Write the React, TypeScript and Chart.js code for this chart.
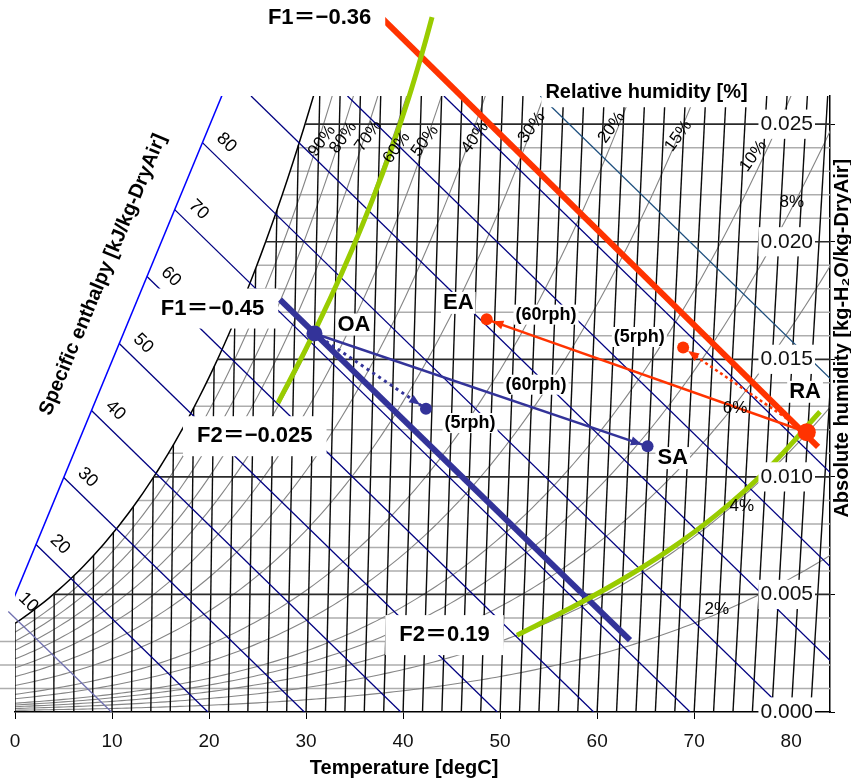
import React, { useEffect, useRef } from 'react';
import { Chart, registerables } from 'chart.js';

Chart.register(...registerables);

// ---------- axes ----------
const X_MIN = 0;
const X_MAX = 84;
const Y_MIN = 0;
const Y_MAX = 0.0262;
const X_TICKS = [0, 10, 20, 30, 40, 50, 60, 70, 80];
const Y_TICKS = [0, 0.005, 0.01, 0.015, 0.02, 0.025];

// ---------- psychrometric grid ----------
const DRY_BULB_LINES = [0, 2, 4, 6, 8, 10, 12, 14, 16, 18, 20, 22, 24, 26, 28, 30, 32, 34, 36, 38, 40, 42, 44, 46, 48, 50, 52, 54, 56, 58, 60, 62, 64, 66, 68, 70, 72, 74, 76, 78, 80, 82, 84];
const HUMIDITY_LINES = [0.001, 0.002, 0.003, 0.004, 0.005, 0.006, 0.007, 0.008, 0.009, 0.01, 0.011, 0.012, 0.013, 0.014, 0.015, 0.016, 0.017, 0.018, 0.019, 0.02, 0.021, 0.022, 0.023, 0.024, 0.025];
const RH_LINES = [2, 4, 6, 8, 10, 15, 20, 30, 40, 50, 60, 70, 80, 90, 100];
const ENTHALPY_LINES = [10, 20, 30, 40, 50, 60, 70, 80, 90, 100, 110, 120];
const ENTHALPY_SCALE_LABELS = [10, 20, 30, 40, 50, 60, 70, 80];
// ends of the oblique enthalpy scale: [chart temperature coordinate, absolute humidity]
const ENTHALPY_SCALE_FROM = [-0.72, 0.00425];
const ENTHALPY_SCALE_TO = [21.34, 0.02623];

// relative humidity labels: text, chart temperature coordinate, humidity
const RH_LABEL_TEXT = ['90%', '80%', '70%', '60%', '50%', '40%', '30%', '20%', '15%', '10%', '8%', '6%', '4%', '2%'];
const RH_LABEL_X = [31.64, 33.84, 36.42, 39.34, 42.26, 47.41, 53.26, 61.5, 68.37, 76.1, 80.06, 74.21, 74.9, 72.33];
const RH_LABEL_Y = [0.02429, 0.02443, 0.0245, 0.024, 0.02429, 0.02443, 0.02486, 0.02486, 0.0245, 0.02365, 0.02166, 0.01293, 0.00873, 0.00436];
const RH_LABEL_UPRIGHT = [false, false, false, false, false, false, false, false, false, false, true, true, true, true];

// ---------- state points [dry-bulb degC, kg/kg] ----------
const OA = [30.0, 0.0161];
const SA = [63.9, 0.0113];
const OA_5RPH = [41.4, 0.0129];
const RA = [79.9, 0.0119];
const EA = [47.2, 0.0167];
const RA_5RPH = [67.0, 0.0155];

// ---------- characteristic lines [dry-bulb degC, kg/kg] ----------
const F1_OA_LINE = [[26.48, 0.01754], [63.04, 0.003055]]; // F1 = -0.45
const F1_RA_LINE = [[36.03, 0.02947], [81.13, 0.01128]]; // F1 = -0.36
const F2_OA_T = [26.48, 29.14, 31.45, 33.56, 35.47, 37.19, 38.72, 40.05, 40.82]; // F2 = -0.025
const F2_OA_X = [0.013152, 0.015411, 0.017542, 0.019672, 0.021803, 0.023933, 0.026063, 0.028193, 0.029557];
const F2_RA_T = [51.44, 56.46, 61.44, 66.39, 71.28, 76.1, 81.11]; // F2 = 0.19
const F2_RA_X = [0.003268, 0.004346, 0.005509, 0.006834, 0.008407, 0.010307, 0.01277];

// ---------- annotations: text and anchor (chart temperature coordinate, humidity) ----------
const LABEL_TEXT = ['F1＝−0.36', 'F1＝−0.45', 'F2＝−0.025', 'F2＝0.19', 'OA', 'EA', 'SA', 'RA', '(60rph)', '(60rph)', '(5rph)', '(5rph)'];
const LABEL_KIND = ['F', 'F', 'F', 'F', 'P', 'P', 'P', 'P', 'R', 'R', 'R', 'R'];
const LABEL_X = [31.39, 20.36, 24.71, 44.27, 34.94, 45.69, 67.79, 81.43, 54.73, 53.7, 64.35, 46.9];
const LABEL_Y = [0.02954, 0.01716, 0.01173, 0.00327, 0.01648, 0.0174, 0.0108, 0.01362, 0.0169, 0.01392, 0.01595, 0.01229];

const X_TITLE = 'Temperature [degC]';
const Y_TITLE = 'Absolute humidity [kg-H₂O/kg-DryAir]';
const RH_TITLE = 'Relative humidity [%]';
const H_TITLE = 'Specific enthalpy [kJ/kg-DryAir]';
const X_TITLE_AT = 40.1;
const Y_TITLE_AT = 0.0159;
const RH_TITLE_AT = [65.09, 0.02636];
const H_TITLE_AT = [9.07, 0.0186];

// ---------- psychrometrics (chart coordinate system) ----------
const P_ATM = 101.325;
const CPA = 1.006;
const CPV = 1.805;
const R0 = 2501;
const psat = (t: number) => 0.61078 * Math.exp((17.27 * t) / (t + 237.3));
const humidityAt = (t: number, rh: number) => {
  const p = (rh / 100) * psat(t);
  return (0.622 * p) / (P_ATM - p);
};
const dewPoint = (x: number) => {
  const p = (x * P_ATM) / (0.622 + x);
  const a = Math.log(p / 0.61078);
  return (237.3 * a) / (17.27 - a);
};
// oblique h-x chart: horizontal coordinate is (h - r0*x)/cpa
const toChart = (t: number, x: number) => ({ x: t + (CPV / CPA) * t * x, y: x });
const enthalpyOf = (X: number, x: number) => CPA * X + R0 * x;

const BLUE = '#333399';
const RED = '#ff3300';
const GREEN = '#99cc00';
const FONT = "'Liberation Sans', 'Noto Sans CJK JP', 'DejaVu Sans', Arial, sans-serif";
const NARROW = "'Liberation Sans Narrow', 'Liberation Sans', Arial, sans-serif";

function lineDs(data: any[], color: string, width: number, order: number, extra: any = {}) {
  return {
    data,
    showLine: true,
    borderColor: color,
    backgroundColor: color,
    borderWidth: width,
    pointRadius: 0,
    pointHoverRadius: 0,
    fill: false,
    tension: 0,
    order,
    ...extra,
  };
}

function buildDatasets() {
  const ds: any[] = [];
  // minor / major humidity lines
  const xsat0 = humidityAt(0, 100);
  HUMIDITY_LINES.forEach((h) => {
    const startX = h < xsat0 ? -1.6 : toChart(dewPoint(h), h).x;
    const major = Math.round(h * 1000) % 5 === 0;
    ds.push(
      lineDs([{ x: startX, y: h }, { x: X_MAX, y: h }], major ? '#2a2a2a' : '#adadad', major ? 1.7 : 1.5, major ? 78 : 90,
        startX < 0 ? { clip: { left: 16, top: 0, right: 0, bottom: 0 } } : {})
    );
  });
  // relative humidity curves
  RH_LINES.forEach((rh) => {
    const pts: any[] = [];
    for (let i = 0; i <= 190; i++) {
      const t = i * 0.5;
      const x = humidityAt(t, rh);
      const p = toChart(t, x);
      pts.push(p);
      if (x > Y_MAX || p.x > X_MAX) break;
    }
    ds.push(lineDs(pts, rh === 100 ? '#000000' : '#858585', rh === 100 ? 1.5 : 1.1, rh === 100 ? 79 : 85));
  });
  // dry-bulb lines
  DRY_BULB_LINES.forEach((t) => {
    const top = Math.min(humidityAt(t, 100), Y_MAX + 0.001);
    ds.push(lineDs([toChart(t, 0), toChart(t, top)], '#0a0a0a', 1.4, 80));
  });
  // enthalpy scale and lines
  const a = { x: ENTHALPY_SCALE_FROM[0], y: ENTHALPY_SCALE_FROM[1] };
  const b = { x: ENTHALPY_SCALE_TO[0], y: ENTHALPY_SCALE_TO[1] };
  ds.push(lineDs([a, b], '#0000ff', 1.5, 74));
  const h0 = enthalpyOf(a.x, a.y);
  const h1 = enthalpyOf(b.x, b.y);
  ENTHALPY_LINES.forEach((h) => {
    const s = (h - h0) / (h1 - h0);
    const start = s <= 1 ? { x: a.x + (b.x - a.x) * s, y: a.y + (b.y - a.y) * s } : { x: (h - R0 * Y_MAX) / CPA, y: Y_MAX };
    const end = { x: h / CPA, y: 0 };
    const color = h === 10 ? '#7070b0' : h === 120 ? '#1d4f7e' : '#000080';
    ds.push(lineDs([start, end], color, 1.3, 75, h === 10 ? { clip: false } : {}));
  });
  // characteristic lines
  ds.push(lineDs(F1_OA_LINE.map((p) => toChart(p[0], p[1])), BLUE, 6, 50, { clip: false }));
  ds.push(lineDs(F1_RA_LINE.map((p) => toChart(p[0], p[1])), RED, 6, 50, { clip: false }));
  ds.push(lineDs(F2_OA_T.map((t, i) => toChart(t, F2_OA_X[i])), GREEN, 5, 49, { clip: false, tension: 0.4 }));
  ds.push(lineDs(F2_RA_T.map((t, i) => toChart(t, F2_RA_X[i])), GREEN, 5, 49, { clip: false, tension: 0.4 }));
  // process arrows
  ds.push(lineDs([toChart(OA[0], OA[1]), toChart(SA[0], SA[1])], BLUE, 2.5, 20));
  ds.push(lineDs([toChart(OA[0], OA[1]), toChart(OA_5RPH[0], OA_5RPH[1])], BLUE, 3, 20, { borderDash: [3, 4] }));
  ds.push(lineDs([toChart(RA[0], RA[1]), toChart(EA[0], EA[1])], RED, 2.5, 20));
  ds.push(lineDs([toChart(RA[0], RA[1]), toChart(RA_5RPH[0], RA_5RPH[1])], RED, 2.5, 20, { borderDash: [3, 3] }));
  // state points
  const pts = [OA, SA, OA_5RPH, RA, EA, RA_5RPH];
  ds.push({
    data: pts.map((p) => toChart(p[0], p[1])),
    showLine: false,
    pointRadius: [8, 6, 6, 9, 6, 6],
    pointHoverRadius: [8, 6, 6, 9, 6, 6],
    pointBackgroundColor: [BLUE, BLUE, BLUE, RED, RED, RED],
    pointBorderWidth: 0,
    borderWidth: 0,
    order: 10,
    clip: false,
  });
  return ds;
}

const ARROWS = [
  { from: OA, to: SA, color: BLUE, gap: 6 },
  { from: OA, to: OA_5RPH, color: BLUE, gap: 7 },
  { from: RA, to: EA, color: RED, gap: 6 },
  { from: RA, to: RA_5RPH, color: RED, gap: 6 },
];

function drawText(ctx: CanvasRenderingContext2D, text: string, x: number, y: number, font: string, rot = 0, box?: { padX: number; h: number }) {
  ctx.save();
  ctx.font = font;
  ctx.textAlign = 'center';
  ctx.textBaseline = 'middle';
  ctx.translate(x, y);
  if (rot) ctx.rotate(rot);
  if (box) {
    const w = ctx.measureText(text).width;
    ctx.fillStyle = '#ffffff';
    ctx.fillRect(-w / 2 - box.padX, -box.h / 2, w + 2 * box.padX, box.h);
  }
  ctx.fillStyle = '#000000';
  ctx.fillText(text, 0, 0);
  ctx.restore();
}

const overlayPlugin = {
  id: 'psychroOverlay',
  afterDatasetsDraw(chart: any) {
    const ctx: CanvasRenderingContext2D = chart.ctx;
    const xs = chart.scales.x;
    const ys = chart.scales.y;
    ARROWS.forEach((ar) => {
      const f = toChart(ar.from[0], ar.from[1]);
      const t = toChart(ar.to[0], ar.to[1]);
      const fx = xs.getPixelForValue(f.x), fy = ys.getPixelForValue(f.y);
      const tx = xs.getPixelForValue(t.x), ty = ys.getPixelForValue(t.y);
      const len = Math.hypot(tx - fx, ty - fy);
      const ux = (tx - fx) / len, uy = (ty - fy) / len;
      const px = tx - ux * ar.gap, py = ty - uy * ar.gap;
      const L = 11, W = 4.5;
      const bx = px - ux * L, by = py - uy * L;
      ctx.save();
      ctx.fillStyle = ar.color;
      ctx.beginPath();
      ctx.moveTo(px, py);
      ctx.lineTo(bx - uy * W, by + ux * W);
      ctx.lineTo(bx + uy * W, by - ux * W);
      ctx.closePath();
      ctx.fill();
      ctx.restore();
    });
  },
  afterDraw(chart: any) {
    const ctx: CanvasRenderingContext2D = chart.ctx;
    const xs = chart.scales.x;
    const ys = chart.scales.y;
    const area = chart.chartArea;
    const px = (v: number) => xs.getPixelForValue(v);
    const py = (v: number) => ys.getPixelForValue(v);

    // enthalpy scale numbers
    const a = { x: ENTHALPY_SCALE_FROM[0], y: ENTHALPY_SCALE_FROM[1] };
    const b = { x: ENTHALPY_SCALE_TO[0], y: ENTHALPY_SCALE_TO[1] };
    const h0 = enthalpyOf(a.x, a.y);
    const h1 = enthalpyOf(b.x, b.y);
    const hx = px(R0 * 0.001 / CPA) - px(0);
    const hy = py(0) - py(0.001);
    const hAngle = Math.atan2(hy, hx);
    ENTHALPY_SCALE_LABELS.forEach((h) => {
      const s = (h - h0) / (h1 - h0);
      const X = a.x + (b.x - a.x) * s;
      const Y = a.y + (b.y - a.y) * s;
      const up = h === 10 ? 9 : 0;
      drawText(ctx, String(h), px(X) + (h === 10 ? 20 : 24), py(Y) - up, `18px ${FONT}`, hAngle);
    });
    // enthalpy title, parallel to the scale
    const sAngle = Math.atan2(py(b.y) - py(a.y), px(b.x) - px(a.x));
    drawText(ctx, H_TITLE, px(H_TITLE_AT[0]), py(H_TITLE_AT[1]), `bold 20px ${FONT}`, sAngle);

    // RH labels
    RH_LABEL_TEXT.forEach((t, i) => {
      drawText(ctx, t, px(RH_LABEL_X[i]), py(RH_LABEL_Y[i]), `17px ${NARROW}`, RH_LABEL_UPRIGHT[i] ? 0 : (-54 * Math.PI) / 180);
    });

    // annotations
    LABEL_TEXT.forEach((t, i) => {
      const kind = LABEL_KIND[i];
      const font = kind === 'R' ? `bold 18px ${FONT}` : `bold 22px ${FONT}`;
      const box = kind === 'F' ? { padX: 14, h: 40 } : kind === 'P' ? { padX: 2, h: 22 } : { padX: 2, h: 20 };
      drawText(ctx, t, px(LABEL_X[i]), py(LABEL_Y[i]), font, 0, box);
    });

    // titles
    drawText(ctx, RH_TITLE, px(RH_TITLE_AT[0]), py(RH_TITLE_AT[1]), `bold 20px ${FONT}`, 0, { padX: 4, h: 30 });
    drawText(ctx, X_TITLE, px(X_TITLE_AT), area.bottom + 56, `bold 20px ${FONT}`);
    drawText(ctx, Y_TITLE, area.right + 12, py(Y_TITLE_AT), `bold 20px ${FONT}`, -Math.PI / 2);
  },
};

export default function App() {
  const ref = useRef<HTMLCanvasElement>(null);
  useEffect(() => {
    const canvas = ref.current;
    if (!canvas) return;
    const chart = new Chart(canvas, {
      type: 'scatter',
      data: { datasets: buildDatasets() },
      options: {
        responsive: false,
        animation: false,
        events: [],
        layout: { padding: { left: 15, top: 96, right: 0, bottom: 0 } },
        plugins: { legend: { display: false }, tooltip: { enabled: false } },
        scales: {
          x: {
            type: 'linear',
            min: X_MIN,
            max: X_MAX,
            position: 'bottom',
            afterBuildTicks: (s: any) => {
              s.ticks = X_TICKS.map((v) => ({ value: v }));
            },
            afterFit: (s: any) => {
              s.height = 71;
              s.paddingLeft = 0;
              s.paddingRight = 0;
            },
            grid: { drawOnChartArea: false, drawTicks: true, tickLength: 7, color: '#000000', lineWidth: 1 },
            border: { display: true, color: '#000000', width: 1.5 },
            ticks: {
              padding: 11,
              color: '#111111',
              autoSkip: false,
              maxRotation: 0,
              font: { family: NARROW, size: 19 },
              callback: (v: any) => String(v),
            },
          },
          y: {
            type: 'linear',
            min: Y_MIN,
            max: Y_MAX,
            position: 'right',
            afterBuildTicks: (s: any) => {
              s.ticks = Y_TICKS.map((v) => ({ value: v }));
            },
            afterFit: (s: any) => {
              s.width = 21;
              s.paddingTop = 0;
              s.paddingBottom = 0;
            },
            grid: { drawOnChartArea: false, drawTicks: true, tickLength: 5, color: '#000000', lineWidth: 1 },
            border: { display: true, color: '#000000', width: 1.5 },
            ticks: {
              mirror: true,
              padding: -17,
              z: 1,
              autoSkip: false,
              color: '#111111',
              showLabelBackdrop: true,
              backdropColor: '#ffffff',
              backdropPadding: 2,
              font: { family: NARROW, size: 21 },
              callback: (v: any) => Number(v).toFixed(3),
            },
          },
        },
      } as any,
      plugins: [overlayPlugin],
    });
    return () => chart.destroy();
  }, []);
  return (
    <div style={{ position: 'fixed', left: 0, top: 0, width: 851, height: 783, background: '#ffffff' }}>
      <canvas ref={ref} width={851} height={783} style={{ display: 'block', width: 851, height: 783 }} />
    </div>
  );
}
